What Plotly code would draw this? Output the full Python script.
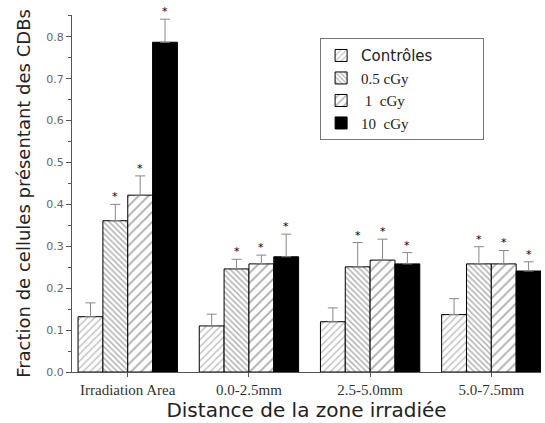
import plotly.graph_objects as go

categories = ['Irradiation Area', '0.0-2.5mm', '2.5-5.0mm', '5.0-7.5mm']
series_names = ['<span style="font-family:DejaVu Sans">Contrôles</span>' + '\u00a0' * 12,
                '0.5 cGy', ' 1  cGy', '10  cGy']

controles = [0.132, 0.110, 0.120, 0.137]
dose_05 = [0.361, 0.246, 0.251, 0.258]
dose_1 = [0.422, 0.258, 0.267, 0.258]
dose_10 = [0.787, 0.275, 0.258, 0.241]

err_controles = [0.033, 0.028, 0.033, 0.038]
err_05 = [0.039, 0.023, 0.058, 0.041]
err_1 = [0.046, 0.021, 0.050, 0.032]
err_10 = [0.055, 0.054, 0.027, 0.022]

# which series carry a significance star
starred = [False, True, True, True]

values = [controles, dose_05, dose_1, dose_10]
errors = [err_controles, err_05, err_1, err_10]

patterns = [
    dict(shape='/', fgcolor='#8a8a8a', bgcolor='white', size=5, solidity=0.3),
    dict(shape='\\', fgcolor='#555555', bgcolor='white', size=4, solidity=0.35),
    dict(shape='/', fgcolor='#555555', bgcolor='white', size=7, solidity=0.25),
    dict(shape='', fgcolor='black', bgcolor='black'),
]
fills = ['white', 'white', 'white', 'black']

fig = go.Figure()
for name, vals, errs, pat, fill in zip(series_names, values, errors, patterns, fills):
    fig.add_trace(go.Bar(
        x=categories, y=vals, name=name,
        marker=dict(color=fill, pattern=pat, line=dict(color='black', width=1)),
        error_y=dict(type='data', array=errs, arrayminus=[0] * len(errs),
                     symmetric=False, color='#888888', thickness=1, width=5),
    ))

bargap = 0.18
bar_w = (1 - bargap) / len(series_names)
for j, (vals, errs) in enumerate(zip(values, errors)):
    if not starred[j]:
        continue
    for i in range(len(categories)):
        fig.add_annotation(
            x=i + (j - 1.5) * bar_w, y=vals[i] + errs[i],
            text='*', showarrow=False, yanchor='bottom', yshift=-1,
            font=dict(family='DejaVu Sans', size=11, color='black'),
        )

fig.update_layout(
    width=545, height=423,
    margin=dict(l=72, r=4, t=15, b=51, autoexpand=False),
    paper_bgcolor='white', plot_bgcolor='white',
    barmode='group', bargap=bargap, bargroupgap=0,
    legend=dict(
        x=0.529, y=0.935, xanchor='left', yanchor='top',
        bordercolor='#777777', borderwidth=1, bgcolor='white',
        font=dict(family='Liberation Serif', size=15, color='#222222'),
        tracegroupgap=0,
    ),
    showlegend=True,
)
fig.update_xaxes(
    range=[-0.46, 3.41],
    showline=True, linecolor='#555555', linewidth=1,
    ticks='outside', ticklen=4, tickcolor='#555555',
    tickfont=dict(family='Liberation Serif', size=15, color='#333333'),
    title=dict(text='Distance de la zone irradiée', standoff=4,
               font=dict(family='DejaVu Sans', size=20, color='#222222')),
    showgrid=False, zeroline=False,
)
fig.update_yaxes(
    range=[0, 0.852],
    tickvals=[0, 0.1, 0.2, 0.3, 0.4, 0.5, 0.6, 0.7, 0.8],
    ticktext=['0.0', '0.1', '0.2', '0.3', '0.4', '0.5', '0.6', '0.7', '0.8'],
    showline=True, linecolor='#555555', linewidth=1,
    ticks='outside', ticklen=5, tickcolor='#555555',
    minor=dict(ticks='outside', ticklen=3, dtick=0.05, tickcolor='#555555'),
    tickfont=dict(family='DejaVu Sans', size=11, color='#666666'),
    title=dict(text='Fraction de cellules présentant des CDBs', standoff=10,
               font=dict(family='DejaVu Sans', size=18, color='#222222')),
    showgrid=False, zeroline=False,
)

fig.write_html('out.html', config={'displayModeBar': False},
               post_script="document.body.style.margin='0';")
